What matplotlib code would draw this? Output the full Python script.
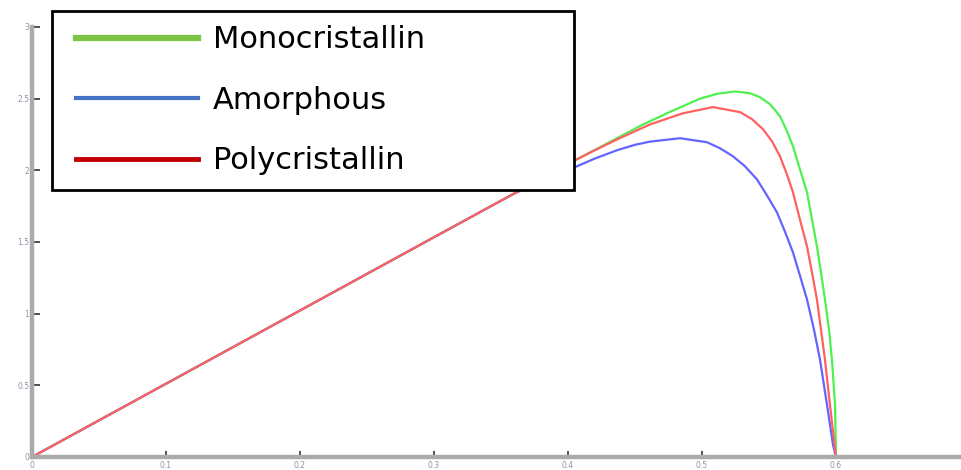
import matplotlib
matplotlib.use("Agg")
import matplotlib.pyplot as plt
from matplotlib.legend_handler import HandlerLine2D

# P-V curves of three cell technologies (power vs voltage)
mono_v = [0, 0.1, 0.2, 0.3, 0.35, 0.4067, 0.42, 0.4388, 0.455, 0.4739, 0.4985, 0.512, 0.5246,
          0.5358, 0.5433, 0.5507, 0.5582, 0.5634, 0.5679, 0.5731, 0.5784, 0.5821, 0.5858,
          0.5888, 0.5918, 0.5948, 0.5970, 0.5993, 0.600]
mono_p = [0, 0.511, 1.022, 1.533, 1.788, 2.077, 2.142, 2.235, 2.315, 2.398, 2.500, 2.535, 2.550,
          2.538, 2.510, 2.462, 2.378, 2.273, 2.168, 2.007, 1.846, 1.657, 1.469,
          1.287, 1.098, 0.888, 0.678, 0.364, 0]

poly_v = [0, 0.1, 0.2, 0.3, 0.35, 0.4067, 0.42, 0.4388, 0.4612, 0.4858, 0.5082, 0.5284,
          0.5373, 0.5455, 0.5522, 0.5582, 0.5634, 0.5679, 0.5731, 0.5784, 0.5821, 0.5858,
          0.5888, 0.5918, 0.5955, 0.600]
poly_p = [0, 0.511, 1.022, 1.533, 1.788, 2.077, 2.140, 2.225, 2.320, 2.398, 2.441, 2.406,
          2.357, 2.287, 2.203, 2.098, 1.972, 1.846, 1.657, 1.469, 1.287, 1.098,
          0.888, 0.678, 0.364, 0]

amor_v = [0, 0.1, 0.2, 0.3, 0.35, 0.36, 0.38, 0.394, 0.4067, 0.42, 0.4366, 0.45, 0.4612, 0.4836,
          0.5037, 0.5134, 0.5231, 0.5321, 0.5410, 0.5485, 0.5560, 0.5619, 0.5679, 0.5731,
          0.5784, 0.5836, 0.5881, 0.5933, 0.5978, 0.600]
amor_p = [0, 0.511, 1.022, 1.533, 1.788, 1.838, 1.925, 1.975, 2.028, 2.082, 2.140, 2.178, 2.200,
          2.224, 2.196, 2.154, 2.098, 2.028, 1.937, 1.825, 1.706, 1.573, 1.427, 1.266,
          1.098, 0.888, 0.678, 0.364, 0.084, 0]

x_ticks = [0, 0.1, 0.2, 0.3, 0.4, 0.5, 0.6]
x_labels = ["0", "0.1", "0.2", "0.3", "0.4", "0.5", "0.6"]
y_ticks = [0, 0.5, 1, 1.5, 2, 2.5, 3]
y_labels = ["0", "0.5", "1", "1.5", "2", "2.5", "3"]
names = ["Monocristallin", "Amorphous", "Polycristallin"]

fig = plt.figure(figsize=(9.61, 4.70), dpi=100)
ax = fig.add_axes([0.0333, 0.0277, 0.9667, 0.9149])

ax.plot(mono_v, mono_p, color="#4ff04f", lw=1.6, solid_joinstyle="round")
ax.plot(amor_v, amor_p, color="#6464ff", lw=1.6, solid_joinstyle="round")
ax.plot(poly_v, poly_p, color="#ff6060", lw=1.6, solid_joinstyle="round")

ax.set_xlim(0, 0.6933)
ax.set_ylim(0, 3.0)

for side in ("top", "right"):
    ax.spines[side].set_visible(False)
for side in ("left", "bottom"):
    ax.spines[side].set_color("#ababab")
    ax.spines[side].set_linewidth(3.2)

ax.set_xticks(x_ticks)
ax.set_xticklabels(x_labels)
ax.set_yticks(y_ticks)
ax.set_yticklabels(y_labels)
ax.tick_params(axis="y", direction="in", length=6, width=1.2, color="#333333",
               labelsize=5.5, labelcolor="#8a94a8", pad=2)
ax.tick_params(axis="x", direction="in", length=4, width=1.2, color="#333333",
               labelsize=5.5, labelcolor="#8a94a8", pad=3)

# legend uses its own (office-style) swatch colours
handles = [
    plt.Line2D([], [], color="#7cc443", lw=4.5),
    plt.Line2D([], [], color="#4472c4", lw=3),
    plt.Line2D([], [], color="#c00000", lw=3.5),
]
leg = fig.legend(handles, names, loc="upper left",
                 bbox_to_anchor=(52 / 961, 1 - 11 / 470, (574 - 52) / 961, 0.0),
                 mode="expand", fontsize=22, handlelength=4.3, handletextpad=0.5,
                 labelspacing=1.03, borderpad=0.47, borderaxespad=0,
                 fancybox=False, framealpha=1, edgecolor="black",
                 handler_map={plt.Line2D: HandlerLine2D(xpad=0.3)})
leg.get_frame().set_linewidth(2)

fig.savefig("out.png", dpi=100)
